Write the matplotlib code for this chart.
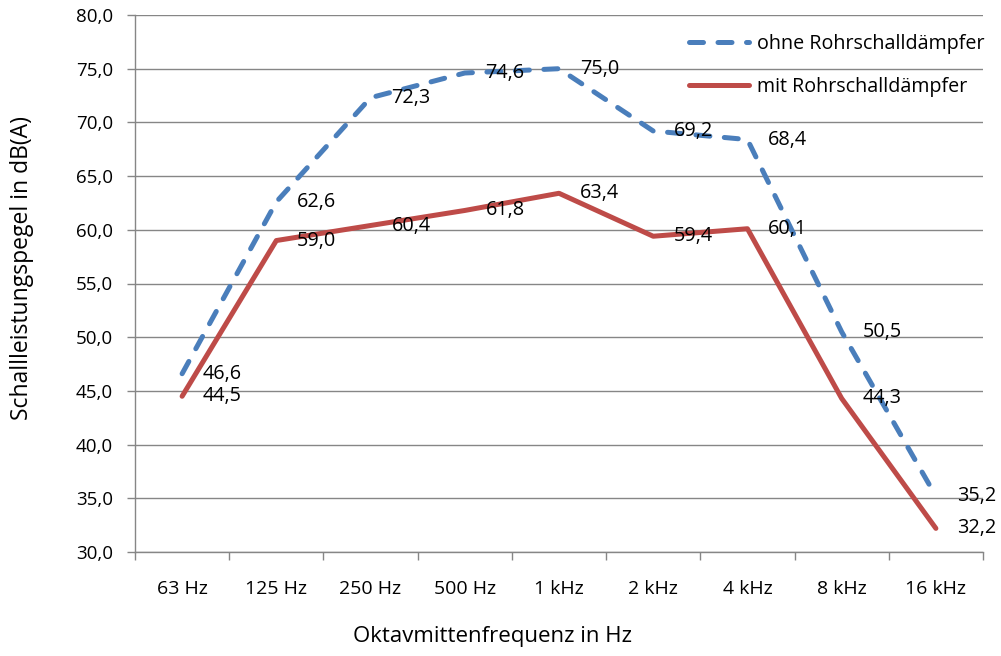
import matplotlib
matplotlib.use("Agg")
import matplotlib.pyplot as plt
import numpy as np

categories = ["63 Hz", "125 Hz", "250 Hz", "500 Hz", "1 kHz", "2 kHz", "4 kHz", "8 kHz", "16 kHz"]
ohne = [46.6, 62.6, 72.3, 74.6, 75.0, 69.2, 68.4, 50.5, 35.2]
mit = [44.5, 59.0, 60.4, 61.8, 63.4, 59.4, 60.1, 44.3, 32.2]
yticks = [30, 35, 40, 45, 50, 55, 60, 65, 70, 75, 80]

plt.rcParams['font.family'] = ['Open Sans', 'DejaVu Sans']

W, H = 1001, 656
fig = plt.figure(figsize=(W / 100, H / 100), dpi=100)
ax = fig.add_axes([135 / W, 1 - 552 / H, (983 - 135) / W, (552 - 15) / H])

x = np.arange(len(categories))
blue = "#4A7EBB"
red = "#BE4B48"
ax.plot(x, ohne, color=blue, lw=3.6, dashes=(2.8, 2.9), dash_capstyle='round',
        label="ohne Rohrschalldämpfer", zorder=3)
ax.plot(x, mit, color=red, lw=3.6, solid_capstyle='round', label="mit Rohrschalldämpfer", zorder=3)

for xi, v in zip(x, ohne):
    ax.annotate(f"{v:.1f}".replace(".", ","), (xi, v), xytext=(15, 0), textcoords="offset points",
                va="center", ha="left", fontsize=14.3, color="black", zorder=4)
for xi, v in zip(x, mit):
    ax.annotate(f"{v:.1f}".replace(".", ","), (xi, v), xytext=(15, 0), textcoords="offset points",
                va="center", ha="left", fontsize=14.3, color="black", zorder=4)

ax.set_xlim(-0.5, len(categories) - 0.5)
ax.set_ylim(30, 80)
ax.set_yticks(yticks)
ax.set_yticklabels([f"{t:.1f}".replace(".", ",") for t in yticks], fontsize=13.5)
ax.set_xticks(x)
ax.set_xticklabels(categories, fontsize=14)
ax.set_xticks(np.arange(len(categories) + 1) - 0.5, minor=True)
ax.tick_params(axis='x', which='major', length=0, pad=20)
ax.tick_params(axis='x', which='minor', length=6, color="#868686", width=1)
ax.tick_params(axis='y', length=6, color="#868686", width=1, pad=10)

ax.grid(axis='y', color="#868686", lw=1)
ax.set_axisbelow(True)
for s in ["top", "right"]:
    ax.spines[s].set_visible(False)
for s in ["left", "bottom"]:
    ax.spines[s].set_color("#868686")
    ax.spines[s].set_linewidth(1)

ax.set_ylabel("Schallleistungspegel in dB(A)", fontsize=16.5)
ax.yaxis.set_label_coords(-0.119, 0.529)
ax.set_xlabel("Oktavmittenfrequenz in Hz", fontsize=16)
ax.xaxis.set_label_coords(0.422, -0.138)

leg = ax.legend(loc="upper left", bbox_to_anchor=((688 - 135) / 848 - 0.0215, 1.0), frameon=False,
                fontsize=14.2, handlelength=3.05, labelspacing=1.18, handletextpad=0.4,
                borderaxespad=0.55)

fig.savefig("out.png", dpi=100)
